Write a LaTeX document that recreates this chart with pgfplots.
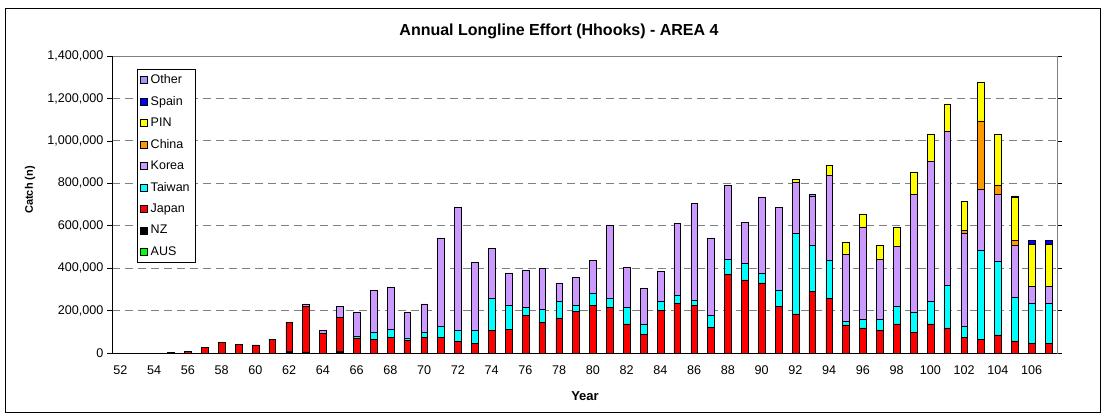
\documentclass[border=0pt]{standalone}
\usepackage{pgfplots}
\usepackage{pgfplotstable}
\pgfplotsset{compat=1.18}
\usepackage{fontspec}
\setmainfont{Liberation Sans}
\definecolor{cAUS}{HTML}{00FF00}
\definecolor{cNZ}{HTML}{000000}
\definecolor{cJAP}{HTML}{FF0000}
\definecolor{cTW}{HTML}{00FFFF}
\definecolor{cKOR}{HTML}{CC99FF}
\definecolor{cCHN}{HTML}{FF9900}
\definecolor{cPIN}{HTML}{FFFF00}
\definecolor{cSPA}{HTML}{0000FF}
\definecolor{cOTH}{HTML}{9999FF}
\pgfplotstableread{
year aus nz jap tw kor chn pin spa oth
52 0 0 0 0 0 0 0 0 0
53 0 0 0 0 0 0 0 0 0
54 0 0 0 0 0 0 0 0 0
55 0 0 3000 0 0 0 0 0 0
56 0 0 9000 0 0 0 0 0 0
57 0 0 28000 0 0 0 0 0 0
58 0 0 50000 0 0 0 0 0 0
59 0 0 42000 0 0 0 0 0 0
60 0 0 38000 0 0 0 0 0 0
61 0 0 66000 0 0 0 0 0 0
62 0 6000 138000 0 0 0 0 0 0
63 0 5000 215000 0 11000 0 0 0 0
64 0 0 94000 0 13000 0 0 0 0
65 0 9000 160000 0 51000 0 0 0 0
66 0 0 71000 9000 111000 0 0 0 0
67 0 0 66000 33000 195000 0 0 0 0
68 0 0 75000 35000 202000 0 0 0 0
69 0 0 61000 10000 122000 0 0 0 0
70 0 0 75000 24000 132000 0 0 0 0
71 0 0 75000 49000 419000 0 0 0 0
72 0 0 55000 50000 583000 0 0 0 0
73 0 0 47000 61000 320000 0 0 0 0
74 0 0 108000 151000 235000 0 0 0 0
75 0 0 113000 111000 154000 0 0 0 0
76 0 0 176000 39000 174000 0 0 0 0
77 0 0 146000 58000 195000 0 0 0 0
78 0 0 166000 77000 87000 0 0 0 0
79 0 0 196000 30000 129000 0 0 0 0
80 0 0 224000 59000 155000 0 0 0 0
81 0 0 215000 44000 344000 0 0 0 0
82 0 0 137000 80000 186000 0 0 0 0
83 0 0 89000 48000 166000 0 0 0 0
84 0 0 201000 42000 142000 0 0 0 0
85 0 0 234000 38000 340000 0 0 0 0
86 0 0 224000 26000 456000 0 0 0 0
87 0 0 122000 54000 367000 0 0 0 0
88 0 0 369000 72000 349000 0 0 0 0
89 0 0 345000 77000 193000 0 0 0 0
90 0 0 330000 44000 362000 0 0 0 0
91 0 0 220000 78000 390000 0 0 0 0
92 0 0 185000 380000 242000 0 12000 0 0
93 0 0 292000 218000 228000 0 0 0 8000
94 0 0 259000 176000 402000 0 48000 0 0
95 0 0 133000 16000 317000 0 58000 0 0
96 0 0 119000 41000 435000 0 61000 0 0
97 0 0 105000 52000 286000 0 66000 0 0
98 0 0 137000 83000 282000 0 90000 0 0
99 0 0 99000 93000 554000 0 106000 0 0
100 0 0 137000 106000 661000 0 126000 0 0
101 0 0 118000 202000 724000 0 130000 0 0
102 0 0 75000 49000 441000 14000 137000 0 0
103 0 0 66000 419000 287000 320000 184000 0 0
104 0 0 85000 348000 313000 44000 240000 0 0
105 0 0 57000 207000 245000 23000 202000 0 7000
106 0 0 47000 187000 80000 0 199000 19000 0
107 0 0 47000 187000 80000 0 198000 19000 0
}\datatable
\pgfplotsset{sq/.style={legend image code/.code={\draw[##1,draw=black,line width=0.5pt] (0pt,-3.5pt) rectangle (7pt,3.5pt);}}}
\begin{document}
\begin{tikzpicture}[x=1pt,y=1pt]
\useasboundingbox (0,0) rectangle (1105,416);
\draw[black, line width=0.8pt] (5,4) rectangle (1100,408);
\node[font=\fontsize{16}{19}\selectfont\bfseries] at (559,385) {Annual Longline Effort (Hhooks) - AREA 4};
\node[font=\fontsize{11}{13}\selectfont\bfseries, rotate=90] at (30,226) {Catch (n)};
\node[font=\fontsize{13}{15}\selectfont\bfseries] at (585,20) {Year};
\begin{axis}[
  at={(112pt,63pt)}, anchor=south west,
  width=945pt, height=297pt, scale only axis,
  ybar stacked, bar width=6.8pt,
  xmin=51.5, xmax=107.5, ymin=0, ymax=1400000,
  xtick={52,54,...,106},
  major x tick style={draw=none},
  extra x ticks={51.5,52.5,...,107.5},
  extra x tick labels={},
  extra x tick style={grid=none, major tick length=5pt, tick style={black, line width=0.6pt}},
  tick align=outside,
  ytick={0,200000,...,1400000},
  major y tick style={black, line width=0.6pt},
  major tick length=5pt,
  ymajorgrids,
  grid style={gray, line width=0.8pt, dash pattern=on 8pt off 5pt},
  scaled y ticks=false,
  /pgf/number format/assume math mode=true,
  yticklabel style={/pgf/number format/.cd, fixed, 1000 sep={,}},
  xticklabel style={yshift=-4pt},
  tick label style={font=\fontsize{12.6}{14}\selectfont},
  axis line style={gray, line width=0.6pt},
  legend style={at={(axis description cs:0.0265,0.956)}, anchor=north west, draw=black, font=\fontsize{12.5}{14}\selectfont, row sep=7.2pt, inner sep=3pt, nodes={inner xsep=3pt}},
  legend cell align=left,
  reverse legend,
  every axis plot/.append style={draw=black, line width=0.5pt},
]
\addplot[fill=cAUS, sq] table[x=year,y=aus] {\datatable};
\addplot[fill=cNZ, sq] table[x=year,y=nz] {\datatable};
\addplot[fill=cJAP, sq] table[x=year,y=jap] {\datatable};
\addplot[fill=cTW, sq] table[x=year,y=tw] {\datatable};
\addplot[fill=cKOR, sq] table[x=year,y=kor] {\datatable};
\addplot[fill=cCHN, sq] table[x=year,y=chn] {\datatable};
\addplot[fill=cPIN, sq] table[x=year,y=pin] {\datatable};
\addplot[fill=cSPA, sq] table[x=year,y=spa] {\datatable};
\addplot[fill=cOTH, sq] table[x=year,y=oth] {\datatable};
\legend{AUS,NZ,Japan,Taiwan,Korea,China,PIN,Spain,Other}
\draw[black, line width=0.8pt] (rel axis cs:0,1) -- (rel axis cs:0,0) -- (rel axis cs:1,0);
\end{axis}
\end{tikzpicture}
\end{document}
